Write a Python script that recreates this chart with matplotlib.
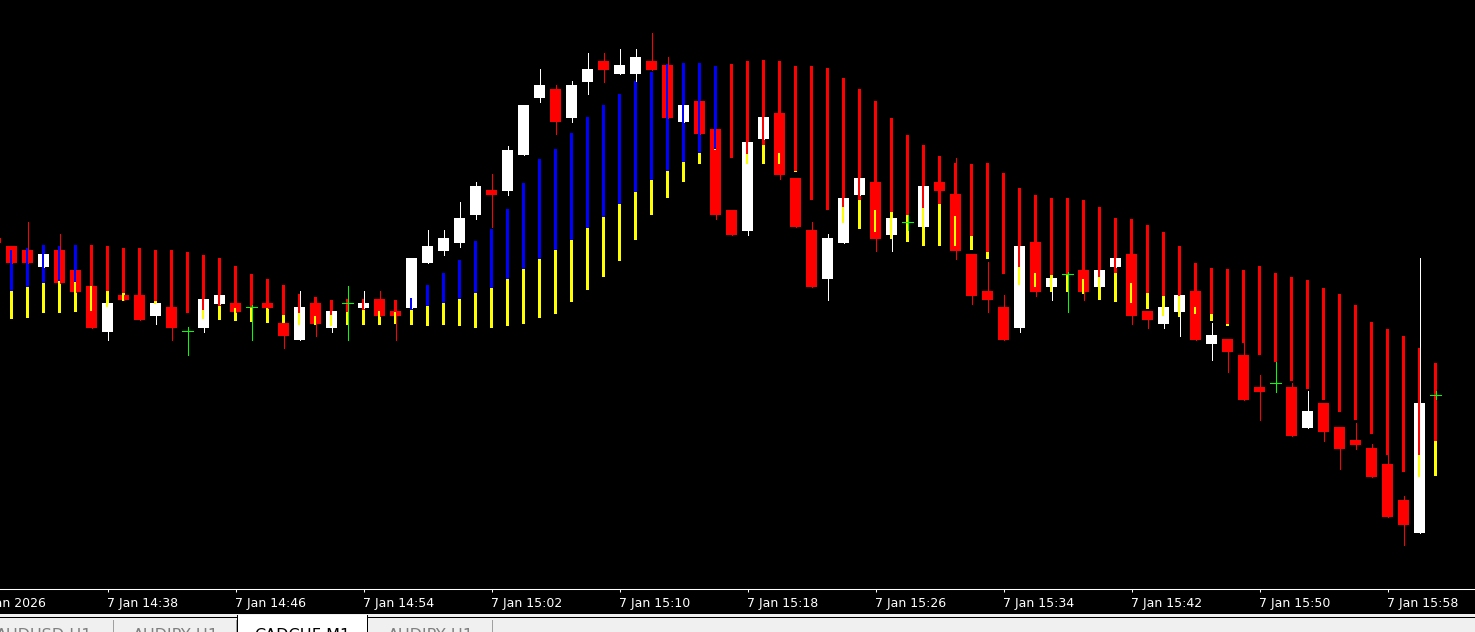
import numpy as np
import matplotlib
matplotlib.use('Agg')
import matplotlib.pyplot as plt
from matplotlib.patches import Rectangle
from matplotlib.transforms import blended_transform_factory

# minutes from 7 Jan 14:38 (one M1 bar each)
minutes = np.arange(-7, 84)

# CADCHF M1 candles, price in points
candle_open = [362, 354, 350, 333, 350, 330, 314, 268, 305, 305,
               284, 293, 269, 272, 296, 297, 293, 297, 277, 260,
               297, 272, 297, 292, 301, 289, 292, 337, 349, 357,
               385, 410, 409, 445, 502, 511, 482, 518, 539, 526,
               526, 539, 535, 478, 499, 471, 390, 369, 461, 487,
               422, 370, 321, 357, 405, 418, 365, 378, 373, 418,
               406, 346, 309, 293, 272, 358, 313, 326, 330, 313,
               333, 346, 289, 276, 288, 309, 256, 261, 245, 213,
               217, 213, 172, 197, 173, 160, 152, 136, 100, 67,
               205]
candle_high = [362, 354, 378, 346, 366, 330, 314, 297, 305, 305,
               297, 293, 273, 301, 305, 297, 295, 297, 277, 309,
               303, 289, 314, 309, 309, 289, 342, 370, 370, 398,
               418, 426, 454, 495, 531, 515, 519, 547, 547, 551,
               551, 567, 543, 495, 499, 471, 390, 458, 483, 487,
               422, 378, 366, 402, 422, 418, 382, 385, 414, 418,
               442, 346, 338, 305, 354, 358, 322, 328, 330, 330,
               342, 346, 289, 293, 305, 309, 277, 261, 257, 225,
               238, 217, 209, 197, 173, 177, 156, 145, 104, 342,
               209]
candle_low = [357, 337, 337, 333, 317, 308, 272, 260, 300, 280,
              276, 260, 245, 268, 296, 288, 260, 292, 252, 260,
              264, 268, 260, 292, 284, 260, 292, 337, 345, 353,
              381, 373, 405, 445, 498, 466, 478, 506, 518, 526,
              519, 530, 482, 478, 466, 381, 365, 365, 461, 421,
              373, 313, 300, 357, 405, 349, 349, 370, 373, 409,
              341, 296, 288, 260, 268, 304, 300, 288, 300, 313,
              333, 276, 272, 272, 264, 260, 240, 228, 200, 180,
              208, 164, 172, 159, 131, 151, 123, 83, 55, 67,
              201]
candle_close = [357, 337, 337, 346, 317, 308, 272, 297, 300, 280,
                297, 272, 269, 301, 305, 288, 293, 292, 264, 293,
                276, 289, 297, 297, 284, 284, 342, 354, 362, 382,
                414, 405, 450, 495, 515, 478, 515, 531, 530, 535,
                543, 530, 482, 495, 466, 385, 365, 458, 483, 425,
                373, 313, 362, 402, 422, 361, 382, 378, 414, 409,
                349, 304, 300, 260, 354, 308, 322, 326, 308, 330,
                342, 284, 280, 293, 305, 260, 265, 248, 200, 208,
                217, 164, 189, 168, 151, 155, 123, 83, 75, 197,
                205]

# indicator: coloured part top->mid, yellow part mid->bottom
ind_top = [np.nan, 350, 352, 355, 354, 355, 355, 354, 352, 352,
           350, 350, 348, 345, 342, 334, 326, 321, 315, 306,
           303, 300, 301, 301, 300, 300, 302, 315, 327, 340,
           359, 371, 391, 417, 441, 451, 467, 483, 495, 506,
           519, 528, 536, 537, 537, 534, 536, 539, 540, 539,
           534, 534, 532, 522, 511, 499, 482, 465, 455, 444,
           437, 436, 437, 427, 412, 405, 402, 402, 400, 393,
           382, 381, 375, 368, 354, 337, 332, 331, 330, 334,
           327, 323, 320, 312, 306, 295, 278, 271, 264, 252,
           237]
ind_mid = [np.nan, 309, 313, 317, 319, 318, 314, 309, 307, 305,
           299, 287, 287, 290, 294, 292, 292, 292, 285, 287,
           284, 285, 288, 290, 289, 288, 290, 294, 297, 301,
           307, 312, 321, 331, 341, 350, 360, 372, 383, 396,
           408, 420, 429, 438, 447, 451, 442, 446, 455, 447,
           429, 400, 390, 393, 400, 390, 388, 385, 392, 396,
           384, 364, 348, 326, 333, 327, 325, 325, 321, 323,
           327, 317, 307, 304, 304, 293, 286, 276, 257, 245,
           238, 219, 211, 200, 188, 180, 166, 145, 128, 145,
           159]
ind_bot = [np.nan, 281, 282, 287, 287, 288, 289, 293, 299, 305,
           296, 287, 287, 281, 280, 279, 278, 277, 277, 275,
           275, 274, 275, 275, 275, 276, 275, 274, 275, 274,
           272, 272, 274, 276, 282, 286, 298, 310, 323, 339,
           360, 385, 402, 418, 436, 450, 442, 436, 436, 436,
           428, 400, 390, 377, 371, 368, 361, 358, 354, 354,
           354, 350, 341, 326, 315, 313, 308, 308, 306, 300,
           298, 297, 291, 284, 283, 286, 279, 274, 257, 245,
           238, 219, 211, 200, 188, 180, 166, 145, 128, 123,
           124]
# B = blue (up), R = red (down), - = no value
ind_trend = ("-BBBBBRRRR" "RRRRRRRRRR" "RRRRRRBBBB" "BBBBBBBBBB"
             "BBBBBBRRRR" "RRRRRRRRRR" "RRRRRRRRRR" "RRRRRRRRRR"
             "RRRRRRRRRR" "R")

tick_minutes = [-8, 0, 8, 16, 24, 32, 40, 48, 56, 64, 72, 80]
tick_labels = ['7 Jan 2026', '7 Jan 14:38', '7 Jan 14:46', '7 Jan 14:54',
               '7 Jan 15:02', '7 Jan 15:10', '7 Jan 15:18', '7 Jan 15:26',
               '7 Jan 15:34', '7 Jan 15:42', '7 Jan 15:50', '7 Jan 15:58']

tabs = ['AUDUSD,H1', 'AUDJPY,H1', 'CADCHF,M1', 'AUDJPY,H1']
active_tab = 2

W, H = 1475, 632
fig = plt.figure(figsize=(W / 100, H / 100), dpi=100, facecolor='black')
ax = fig.add_axes([0, 43 / H, 1, 589 / H], facecolor='black')

x = minutes.astype(float)
o = np.array(candle_open, float)
h = np.array(candle_high, float)
l = np.array(candle_low, float)
c = np.array(candle_close, float)
up = c > o
dn = c < o
dj = c == o

# wicks (1 px)
wick_col = np.where(up, 'white', np.where(dn, 'red', '#00ff00'))
ax.vlines(x, l, h, colors=wick_col, linewidth=0.5, antialiased=False)

# bodies
body_w = 11 / 16
ax.bar(x[up], (c - o)[up], bottom=o[up], width=body_w, color='white',
       linewidth=0, antialiased=False)
ax.bar(x[dn], (o - c)[dn], bottom=c[dn], width=body_w, color='red',
       linewidth=0, antialiased=False)
ax.hlines(c[dj], x[dj] - body_w / 2, x[dj] + body_w / 2, colors='#00ff00',
          linewidth=0.5, antialiased=False)

# indicator bars drawn on top of candles
top = np.array(ind_top)
mid = np.array(ind_mid)
bot = np.array(ind_bot)
trend = np.array(list(ind_trend))
ok = trend != '-'
ind_col = np.where(trend == 'B', '#0000ff', '#ff0000')
ind_w = 3 / 16
ax.bar(x[ok], (top - mid)[ok], bottom=mid[ok], width=ind_w, color=ind_col[ok],
       linewidth=0, antialiased=False)
ax.bar(x[ok], (mid - bot)[ok], bottom=bot[ok], width=ind_w, color='#ffff00',
       linewidth=0, antialiased=False)

# bar centres sit in the middle of a pixel column
ax.set_xlim(-107.5 / 16, (W - 107.5) / 16)
ax.set_ylim(11, 600)

# time axis
for s in ['top', 'left', 'right']:
    ax.spines[s].set_visible(False)
ax.spines['bottom'].set_color('white')
ax.spines['bottom'].set_linewidth(0.75)
ax.set_yticks([])
ax.set_xticks([t for t in tick_minutes if t >= 0])
ax.set_xticklabels([])
ax.tick_params(axis='x', colors='white', length=2.3, width=0.75, direction='out')
trans = blended_transform_factory(ax.transData, ax.transAxes)
for t, lab in zip(tick_minutes, tick_labels):
    ax.text(t - 0.03, -(607 - 589) / 589, lab, transform=trans, color='white',
            fontsize=9, ha='left', va='baseline', clip_on=False)


# tab bar at the bottom (pixel coords from top-left)
def px_rect(x0, y0, x1, y1, **kw):
    fig.add_artist(Rectangle((x0 / W, 1 - y1 / H), (x1 - x0) / W, (y1 - y0) / H,
                             transform=fig.transFigure, **kw))


px_rect(0, 614, W, H, facecolor='#f0f0f0', edgecolor='none')
px_rect(0, 617, W, 618, facecolor='#000000', edgecolor='none')
tab_edges = [-10, 114, 237, 368, 493]
for i, name in enumerate(tabs):
    x0, x1 = tab_edges[i], tab_edges[i + 1]
    if i == active_tab:
        px_rect(x0, 615, x1, H, facecolor='white', edgecolor='none')
        px_rect(x0, 615, x0 + 1, H, facecolor='#000000', edgecolor='none')
        px_rect(x1 - 1, 615, x1, H, facecolor='#000000', edgecolor='none')
        col = 'black'
    else:
        px_rect(x1 - 1, 620, x1, H, facecolor='#a0a0a0', edgecolor='none')
        col = '#808080'
    cx = (x0 + x1) / 2 + (-8 if i == 0 else 0)
    fig.text(cx / W, 1 - 640 / H, name, color=col, fontsize=11.5,
             ha='center', va='baseline')

fig.savefig('out.png', dpi=100, facecolor='black')
